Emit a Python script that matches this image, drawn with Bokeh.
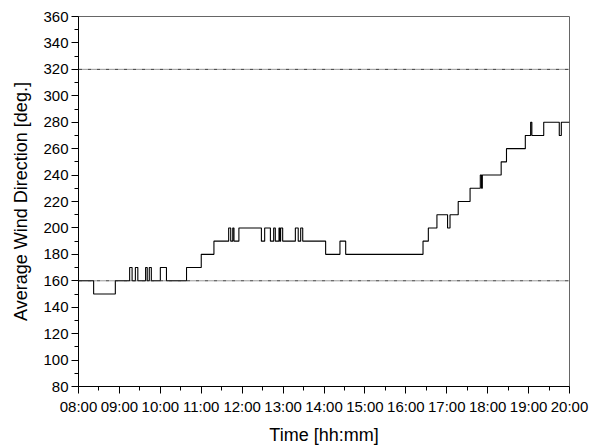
from bokeh.plotting import figure
from bokeh.models import FixedTicker, Span
from bokeh.embed import file_html
from bokeh.resources import INLINE

# Data (hours of day, step changes) and average wind direction (deg.)
times = [8.0, 8.37, 8.90, 9.25, 9.31, 9.39, 9.45, 9.64, 9.68, 9.73, 9.78, 10.00, 10.15, 10.64,
         11.0, 11.31, 11.67, 11.72, 11.77, 11.80, 11.92, 12.47, 12.55, 12.69, 12.77, 12.81,
         12.90, 12.92, 12.94, 12.99, 13.30, 13.37, 13.43, 13.48, 14.04, 14.39, 14.53, 16.42,
         16.55, 16.76, 17.02, 17.08, 17.28, 17.57, 17.82, 17.85, 17.87, 18.33, 18.46, 18.92,
         19.05, 19.08, 19.37, 19.75, 19.80, 20.0]
direction = [160, 150, 160, 170, 160, 170, 160, 170, 160, 170, 160, 170, 160, 170,
             180, 190, 200, 190, 200, 190, 200, 190, 200, 190, 200, 190,
             200, 190, 200, 190, 200, 190, 200, 190, 180, 190, 180, 190,
             200, 210, 200, 210, 220, 230, 240, 230, 240, 250, 260, 270,
             280, 270, 280, 270, 280, 280]
ref_levels = [160, 320]
x_ticks = [8, 9, 10, 11, 12, 13, 14, 15, 16, 17, 18, 19, 20]
x_tick_labels = ["08:00", "09:00", "10:00", "11:00", "12:00", "13:00", "14:00",
                 "15:00", "16:00", "17:00", "18:00", "19:00", "20:00"]
y_ticks = list(range(80, 361, 20))

FONT = "Liberation Sans"

p = figure(frame_width=491, frame_height=370, x_range=(8, 20), y_range=(80, 360),
           output_backend="svg", toolbar_location=None,
           min_border_left=78, min_border_right=24, min_border_top=16, min_border_bottom=50)
p.background_fill_color = "white"
p.border_fill_color = "white"
p.outline_line_color = "#666666"
p.outline_line_width = 1
p.xgrid.visible = False
p.ygrid.visible = False

for lvl in ref_levels:
    p.add_layout(Span(location=lvl, dimension="width", line_color="#333333",
                      line_width=1, line_dash="4 1 1 1 1 1"))

p.step(times, direction, mode="after", line_color="black", line_width=1.1)

p.xaxis.ticker = FixedTicker(ticks=x_ticks, minor_ticks=[t + 0.5 for t in x_ticks[:-1]])
p.xaxis.major_label_overrides = {t: l for t, l in zip(x_ticks, x_tick_labels)}
p.yaxis.ticker = FixedTicker(ticks=y_ticks, minor_ticks=list(range(90, 360, 20)))

for ax in (p.xaxis, p.yaxis):
    ax.axis_line_color = "black"
    ax.axis_line_width = 1
    ax.major_tick_line_color = "black"
    ax.minor_tick_line_color = "black"
    ax.major_tick_out = 7
    ax.major_tick_in = 0
    ax.minor_tick_out = 4
    ax.minor_tick_in = 0
    ax.major_label_text_font = FONT
    ax.major_label_text_font_size = "15px"
    ax.major_label_text_color = "black"
    ax.axis_label_text_font = FONT
    ax.axis_label_text_font_size = "18px"
    ax.axis_label_text_font_style = "normal"
    ax.axis_label_text_color = "black"

p.xaxis.axis_label = "Time [hh:mm]"
p.yaxis.axis_label = "Average Wind Direction [deg.]"
p.xaxis.major_label_standoff = 4
p.yaxis.major_label_standoff = 3
p.xaxis.axis_label_standoff = 7
p.yaxis.axis_label_standoff = 9

open("out.html", "w").write(file_html(p, INLINE))
